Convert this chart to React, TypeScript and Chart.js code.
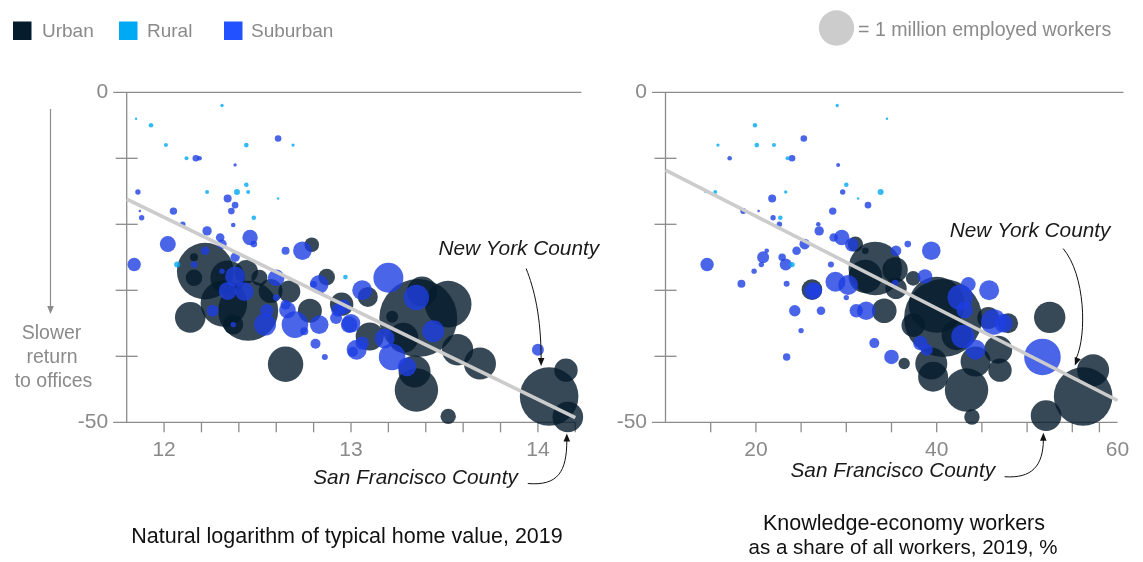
import { useEffect, useRef } from "react";
import { Chart, registerables } from "chart.js";

Chart.register(...registerables);

// [x value, change in office return (%), employed workers (thousands)]
type Pt = [number, number, number];

// ---------- Left panel: natural log of typical home value, 2019 ----------
const homeNewYork: Pt = [14.06, -46.1, 2739];
const homeSanFrancisco: Pt = [14.16, -49.2, 750];

const homeUrban: Pt[] = [
  [12.22, -27.1, 2555], [12.16, -28.1, 220], [12.16, -25.0, 51], [12.34, -28.1, 955],
  [12.32, -32.0, 1732], [12.45, -33.1, 2871], [12.14, -34.1, 747], [12.44, -27.2, 437],
  [12.51, -28.1, 204], [12.57, -30.1, 459], [12.67, -30.2, 386], [12.78, -33.1, 459],
  [12.87, -28.0, 220], [12.65, -41.2, 1000], [12.95, -32.1, 437], [12.79, -23.1, 170],
  [12.37, -35.2, 319], [13.36, -34.2, 4852], [13.52, -32.1, 1732], [13.38, -30.2, 718],
  [13.22, -34.0, 115], [13.28, -37.2, 718], [13.57, -39.0, 786], [13.69, -41.1, 817],
  [13.34, -42.3, 817], [13.35, -45.1, 1502], [13.52, -49.1, 189], [14.15, -42.1, 437],
  [13.09, -31.0, 319], [13.10, -37.0, 625], homeNewYork, homeSanFrancisco,
];

const homeRural: Pt[] = [
  [11.85, -4.0, 5], [11.93, -5.0, 17], [12.31, -2.0, 9], [12.01, -8.0, 13], [12.12, -10.0, 13],
  [12.44, -8.0, 17], [12.69, -8.0, 9], [12.23, -15.1, 13], [12.44, -14.0, 17], [12.39, -15.1, 29],
  [12.45, -15.1, 13], [12.61, -16.1, 5], [12.48, -19.0, 17], [12.07, -26.1, 29], [12.97, -28.0, 17],
];

const homeSuburban: Pt[] = [
  [12.61, -7.0, 35], [12.17, -10.0, 35], [12.19, -10.0, 17], [12.38, -11.0, 9], [11.86, -15.1, 23],
  [12.34, -16.1, 51], [12.38, -17.1, 35], [12.36, -18.0, 35], [11.87, -18.0, 5], [11.88, -19.0, 23],
  [12.05, -18.0, 44], [12.37, -20.1, 17], [12.10, -20.0, 23], [12.23, -21.0, 70], [12.30, -22.0, 59],
  [12.31, -23.0, 70], [12.46, -22.0, 189], [12.48, -23.0, 35], [12.02, -23.0, 204], [12.65, -24.0, 51],
  [12.74, -24.0, 276], [11.84, -26.1, 143], [12.38, -25.0, 70], [12.22, -24.0, 59], [12.16, -26.1, 35],
  [12.31, -27.1, 23], [12.34, -30.1, 258], [12.43, -30.2, 276], [12.38, -27.9, 319], [12.26, -33.1, 115],
  [12.55, -33.1, 143], [12.54, -35.2, 386], [12.37, -35.2, 23], [12.60, -28.1, 220], [12.60, -31.1, 35],
  [12.65, -32.2, 80], [12.66, -33.0, 220], [12.70, -35.2, 564], [12.83, -35.2, 276], [12.75, -36.2, 51],
  [12.81, -38.1, 80], [12.86, -40.1, 29], [12.83, -29.1, 276], [12.80, -29.1, 35], [12.93, -33.0, 143],
  [12.99, -35.2, 220], [13.01, -39.3, 80], [13.20, -28.1, 718], [13.35, -31.1, 515], [13.06, -30.0, 319],
  [12.96, -32.5, 170], [13.00, -35.0, 276], [13.03, -39.0, 319], [13.06, -38.0, 143], [13.18, -37.3, 319],
  [13.22, -40.1, 564], [13.30, -41.6, 276], [14.00, -39.0, 115], [13.44, -36.2, 386], [12.92, -34.2, 115],
];

const homeTrend: [number, number][] = [[11.8, -16.2], [14.2, -49.3]];
const homeRange: [number, number] = [11.8, 14.2];
const homeTicks = [12.0, 12.2, 12.4, 12.6, 12.8, 13.0, 13.2, 13.4, 13.6, 13.8, 14.0, 14.2];
const homeTickLabels = [12, 13, 14];

// ---------- Right panel: knowledge-economy share of workers, 2019, % ----------
const knowNewYork: Pt = [56.2, -46.1, 2739];
const knowSanFrancisco: Pt = [52.1, -49.0, 750];

const knowUrban: Pt[] = [
  [31.0, -23.0, 189], [33.2, -26.7, 2274], [32.1, -27.9, 890], [35.4, -26.9, 515], [26.2, -29.9, 340],
  [32.1, -24.0, 35], [34.2, -33.1, 483], [35.5, -29.7, 365], [37.4, -28.2, 170], [40.7, -34.2, 4852],
  [40.0, -32.2, 2501], [39.4, -41.1, 817], [39.6, -43.1, 718], [43.3, -45.1, 1502], [43.9, -49.2, 189],
  [44.3, -40.8, 718], [46.8, -39.0, 625], [47.0, -42.1, 437], [36.4, -41.1, 104], [45.7, -34.2, 386],
  [47.9, -35.0, 319], [42.2, -36.8, 718], [37.4, -35.3, 437], [52.5, -34.1, 786], [57.3, -42.1, 817],
  knowNewYork, knowSanFrancisco,
];

const knowRural: Pt[] = [
  [29.0, -2.0, 9], [34.5, -4.0, 5], [19.9, -5.0, 17], [15.8, -8.0, 9], [20.1, -8.0, 17],
  [22.0, -8.0, 13], [23.5, -10.0, 13], [30.0, -14.0, 17], [33.8, -15.1, 29], [31.3, -16.1, 5],
  [15.5, -15.1, 13], [14.4, -15.1, 3], [23.3, -15.1, 9], [22.7, -19.0, 17], [24.0, -26.1, 23],
];

const knowSuburban: Pt[] = [
  [25.3, -7.0, 35], [17.1, -10.0, 17], [24.0, -10.0, 35], [29.1, -11.0, 13], [29.6, -15.1, 23],
  [21.8, -16.1, 51], [32.4, -17.1, 35], [18.6, -18.0, 29], [20.3, -18.0, 5], [28.5, -18.0, 44],
  [21.9, -19.0, 23], [22.6, -20.0, 23], [26.9, -20.0, 17], [27.0, -21.0, 70], [28.6, -22.0, 59],
  [29.5, -22.0, 189], [25.4, -23.0, 90], [24.5, -24.0, 59], [21.2, -24.0, 17], [20.8, -25.0, 115],
  [22.9, -25.0, 44], [23.3, -26.1, 115], [20.6, -26.1, 23], [14.6, -26.1, 143], [19.8, -27.1, 23],
  [18.4, -29.0, 51], [23.4, -29.0, 29], [28.3, -26.1, 29], [35.5, -24.0, 90], [36.8, -23.0, 35],
  [30.6, -23.1, 143], [28.8, -28.7, 319], [26.5, -30.0, 170], [30.2, -29.2, 319], [39.4, -24.0, 276],
  [45.8, -30.0, 319], [42.6, -31.1, 515], [43.5, -29.1, 170], [43.1, -33.0, 220], [42.9, -37.0, 437],
  [44.3, -39.0, 319], [38.7, -27.9, 170], [46.3, -34.8, 515], [47.4, -35.0, 276], [38.2, -38.0, 170],
  [38.9, -39.0, 115], [35.0, -40.1, 170], [33.1, -38.0, 80], [32.2, -33.1, 276], [31.1, -33.1, 143],
  [30.0, -31.1, 23], [26.3, -30.1, 241], [27.2, -33.1, 59], [24.3, -33.1, 104], [25.0, -36.1, 23],
  [23.4, -40.1, 44], [35.4, -28.9, 35], [51.7, -40.1, 1068],
];

const knowTrend: [number, number][] = [[10, -11.8], [60, -46.7]];
const knowRange: [number, number] = [10, 60];
const knowTicks = [15, 20, 25, 30, 35, 40, 45, 50, 55, 58];
const knowTickLabels = [20, 40, 60];

// ---------- shared ----------
const yRange: [number, number] = [-50, 0];
const yTicks = [-10, -20, -30, -40];
const yTickLabels = [0, -50];
const categories = ["Urban", "Rural", "Suburban"];
const categoryColors = ["#051c2c", "#00a9f4", "#2251ff"];
const bubbleColors = ["#051c2c", "#00a9f4", "#1e3ee2"];
const bubbleLegendWorkers = 1000; // thousands = 1 million

// ---------- styling ----------
const FONT = '"Liberation Sans", Arial, Helvetica, sans-serif';
const AXIS = "#8c8c8c";
const LABEL = "#8a8a8a";
const PX_PER_MILLION = 17.7;
const radiusFor = (w: number) => PX_PER_MILLION * Math.sqrt(w / 1000);

const rgba = (hex: string, a: number) => {
  const n = parseInt(hex.slice(1), 16);
  return `rgba(${(n >> 16) & 255},${(n >> 8) & 255},${n & 255},${a})`;
};

type Annot = {
  point: Pt;
  text: string;
  textRight: number;
  textDy: number;
  path: [number, number][]; // cubic: 4 points, offsets from bubble centre
  tip: [number, number];
};

type Panel = {
  id: string;
  urban: Pt[];
  rural: Pt[];
  suburban: Pt[];
  trend: [number, number][];
  range: [number, number];
  ticks: number[];
  tickLabels: number[];
  padding: { left: number; right: number; top: number; bottom: number };
  annotations: Annot[];
  extras: (ctx: CanvasRenderingContext2D) => void;
};

function arrowHead(ctx: CanvasRenderingContext2D, tx: number, ty: number, fx: number, fy: number) {
  const ang = Math.atan2(ty - fy, tx - fx);
  const len = 8;
  const half = 3.3;
  const bx = tx - len * Math.cos(ang);
  const by = ty - len * Math.sin(ang);
  ctx.beginPath();
  ctx.moveTo(tx, ty);
  ctx.lineTo(bx + half * Math.sin(ang), by - half * Math.cos(ang));
  ctx.lineTo(bx - half * Math.sin(ang), by + half * Math.cos(ang));
  ctx.closePath();
  ctx.fill();
}

function seg(ctx: CanvasRenderingContext2D, x1: number, y1: number, x2: number, y2: number) {
  ctx.beginPath();
  ctx.moveTo(x1, y1);
  ctx.lineTo(x2, y2);
  ctx.stroke();
}

function drawLeftExtras(ctx: CanvasRenderingContext2D) {
  // category legend
  ctx.font = `19px ${FONT}`;
  ctx.textBaseline = "middle";
  ctx.textAlign = "left";
  const sq = [13, 119, 224];
  const tx = [42, 147, 251];
  categories.forEach((c, i) => {
    ctx.fillStyle = categoryColors[i];
    ctx.fillRect(sq[i], 21.5, 18.5, 18.5);
    ctx.fillStyle = LABEL;
    ctx.fillText(c, tx[i], 31.5);
  });
  // y-axis direction label
  ctx.strokeStyle = AXIS;
  ctx.fillStyle = AXIS;
  ctx.lineWidth = 1.2;
  seg(ctx, 50.5, 109, 50.5, 308);
  arrowHead(ctx, 50.5, 314, 50.5, 300);
  ctx.fillStyle = LABEL;
  ctx.textAlign = "center";
  ctx.font = `19.5px ${FONT}`;
  ctx.fillText("Slower", 51.5, 334);
  ctx.fillText("return", 52, 358);
  ctx.fillText("to offices", 53.5, 382);
  // x-axis title
  ctx.fillStyle = "#111111";
  ctx.font = `21.5px ${FONT}`;
  ctx.fillText("Natural logarithm of typical home value, 2019", 347, 537);
}

function drawRightExtras(ctx: CanvasRenderingContext2D) {
  // bubble size legend
  ctx.fillStyle = "#cccccc";
  ctx.beginPath();
  ctx.arc(836.5, 28, radiusFor(bubbleLegendWorkers), 0, Math.PI * 2);
  ctx.fill();
  ctx.fillStyle = LABEL;
  ctx.font = `19.6px ${FONT}`;
  ctx.textAlign = "left";
  ctx.textBaseline = "middle";
  ctx.fillText("= 1 million employed workers", 858, 31);
  // x-axis title
  ctx.fillStyle = "#111111";
  ctx.textAlign = "center";
  ctx.font = `21.5px ${FONT}`;
  ctx.fillText("Knowledge-economy workers", 904, 524);
  ctx.font = `20.5px ${FONT}`;
  ctx.fillText("as a share of all workers, 2019, %", 903, 548);
}

const leftPanel: Panel = {
  id: "home",
  urban: homeUrban,
  rural: homeRural,
  suburban: homeSuburban,
  trend: homeTrend,
  range: homeRange,
  ticks: homeTicks,
  tickLabels: homeTickLabels,
  padding: { left: 126.7, right: 1143 - 575.3, top: 92.3, bottom: 562 - 422.3 },
  annotations: [
    {
      point: homeNewYork,
      text: "New York County",
      textRight: 50,
      textDy: -147,
      path: [[-23, -128], [-15, -108], [-8, -80], [-8, -37]],
      tip: [-8, -30.5],
    },
    {
      point: homeSanFrancisco,
      text: "San Francisco County",
      textRight: -50,
      textDy: 61,
      path: [[-40, 66.5], [-10, 69], [-1, 55], [-1, 23]],
      tip: [-1, 16.5],
    },
  ],
  extras: drawLeftExtras,
};

const rightPanel: Panel = {
  id: "know",
  urban: knowUrban,
  rural: knowRural,
  suburban: knowSuburban,
  trend: knowTrend,
  range: knowRange,
  ticks: knowTicks,
  tickLabels: knowTickLabels,
  padding: { left: 665.5, right: 1143 - 1117.5, top: 92.3, bottom: 562 - 422.3 },
  annotations: [
    {
      point: knowNewYork,
      text: "New York County",
      textRight: 27.3,
      textDy: -165.7,
      path: [[-20, -148], [2, -122], [4, -62], [-7, -38]],
      tip: [-8.3, -31],
    },
    {
      point: knowSanFrancisco,
      text: "San Francisco County",
      textRight: -51,
      textDy: 56,
      path: [[-41.5, 61], [-14, 63], [-3, 50], [-2.7, 24]],
      tip: [-2.7, 17],
    },
  ],
  extras: drawRightExtras,
};

function makePlugin(panel: Panel) {
  return {
    id: "panel-" + panel.id,
    beforeDatasetsDraw(chart: any) {
      const { ctx, chartArea: a, scales } = chart;
      const x = scales.x;
      const y = scales.y;
      const y0 = y.getPixelForValue(0);
      const yb = y.getPixelForValue(-50);
      ctx.save();
      ctx.strokeStyle = AXIS;
      ctx.lineWidth = 1.3;
      seg(ctx, a.left - 13.5, y0, a.right + 6, y0);
      seg(ctx, a.left - 13.5, yb, a.right, yb);
      seg(ctx, a.left, y0, a.left, yb);
      yTicks.forEach((v) => {
        const p = y.getPixelForValue(v);
        seg(ctx, a.left - 11, p, a.left + 11, p);
      });
      panel.ticks.forEach((v) => {
        const p = x.getPixelForValue(v);
        seg(ctx, p, yb, p, yb + 10);
      });
      ctx.fillStyle = LABEL;
      ctx.font = `21px ${FONT}`;
      ctx.textBaseline = "middle";
      ctx.textAlign = "right";
      yTickLabels.forEach((v) => {
        ctx.fillText(String(v), a.left - 18.5, y.getPixelForValue(v) - 0.5);
      });
      ctx.textAlign = "center";
      panel.tickLabels.forEach((v) => {
        ctx.fillText(String(v), x.getPixelForValue(v), 450);
      });
      ctx.restore();
    },
    afterDatasetsDraw(chart: any) {
      const { ctx, scales } = chart;
      const x = scales.x;
      const y = scales.y;
      ctx.save();
      panel.annotations.forEach((an) => {
        const cx = x.getPixelForValue(an.point[0]);
        const cy = y.getPixelForValue(an.point[1]);
        ctx.fillStyle = "#1a1a1a";
        ctx.font = `italic 20.8px ${FONT}`;
        ctx.textAlign = "right";
        ctx.textBaseline = "middle";
        ctx.fillText(an.text, cx + an.textRight, cy + an.textDy);
        const p = an.path.map(([dx, dy]) => [cx + dx, cy + dy]);
        ctx.strokeStyle = "#111111";
        ctx.lineWidth = 1;
        ctx.beginPath();
        ctx.moveTo(p[0][0], p[0][1]);
        ctx.bezierCurveTo(p[1][0], p[1][1], p[2][0], p[2][1], p[3][0], p[3][1]);
        ctx.stroke();
        ctx.fillStyle = "#111111";
        arrowHead(ctx, cx + an.tip[0], cy + an.tip[1], p[2][0], p[2][1]);
      });
      panel.extras(ctx);
      ctx.restore();
    },
  };
}

function buildChart(canvas: HTMLCanvasElement, panel: Panel) {
  const toBubble = (pts: Pt[]) => pts.map(([x, y, w]) => ({ x, y, r: radiusFor(w) }));
  const bubble = (label: string, pts: Pt[], color: string, order: number) => ({
    type: "bubble" as const,
    label,
    data: toBubble(pts),
    backgroundColor: rgba(color, 0.8),
    borderWidth: 0,
    hoverBorderWidth: 0,
    order,
    clip: false as const,
  });
  return new Chart(canvas, {
    type: "bubble",
    data: {
      datasets: [
        {
          type: "line",
          label: "trend",
          data: panel.trend.map(([x, y]) => ({ x, y })),
          borderColor: "#cccccc",
          borderWidth: 3.6,
          pointRadius: 0,
          fill: false,
          order: 0,
          clip: false,
        } as any,
        bubble(categories[1], panel.rural, bubbleColors[1], 1),
        bubble(categories[2], panel.suburban, bubbleColors[2], 2),
        bubble(categories[0], panel.urban, bubbleColors[0], 3),
      ],
    },
    options: {
      animation: false,
      responsive: false,
      events: [],
      layout: { padding: panel.padding, autoPadding: false },
      plugins: { legend: { display: false }, tooltip: { enabled: false } },
      scales: {
        x: { type: "linear", min: panel.range[0], max: panel.range[1], display: false },
        y: { type: "linear", min: yRange[0], max: yRange[1], display: false },
      },
    } as any,
    plugins: [makePlugin(panel)],
  });
}

export default function App() {
  const leftRef = useRef<HTMLCanvasElement>(null);
  const rightRef = useRef<HTMLCanvasElement>(null);

  useEffect(() => {
    const charts: Chart[] = [];
    if (leftRef.current) charts.push(buildChart(leftRef.current, leftPanel));
    if (rightRef.current) charts.push(buildChart(rightRef.current, rightPanel));
    return () => charts.forEach((c) => c.destroy());
  }, []);

  return (
    <div style={{ position: "absolute", left: 0, top: 0, width: 1143, height: 562, background: "#ffffff", overflow: "hidden" }}>
      <canvas ref={leftRef} width={1143} height={562} style={{ position: "absolute", left: 0, top: 0 }} />
      <canvas ref={rightRef} width={1143} height={562} style={{ position: "absolute", left: 0, top: 0 }} />
    </div>
  );
}
